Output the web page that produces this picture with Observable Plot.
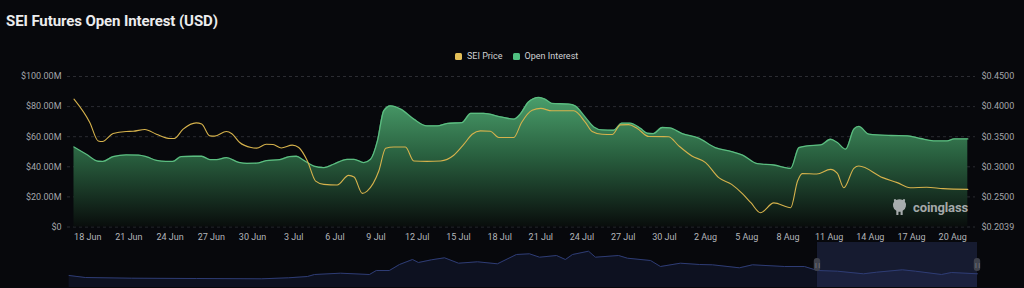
<!DOCTYPE html>
<html>
<head>
<meta charset="utf-8">
<script src="https://cdn.jsdelivr.net/npm/d3@7"></script>
<script src="https://cdn.jsdelivr.net/npm/@observablehq/plot@0.6"></script>
<style>
  html, body { margin: 0; padding: 0; }
  body { width: 1024px; height: 288px; overflow: hidden; position: relative; background: #07080c; font-family: Roboto, "Noto Sans", sans-serif; }
  #title { position: absolute; left: 6px; top: 12px; font-size: 15px; font-weight: 700; color: #ececee; letter-spacing: -0.1px; white-space: nowrap; }
  #legend { position: absolute; left: 455px; top: 51px; display: flex; align-items: center; font-size: 9px; color: #cfd0d3; white-space: nowrap; }
  #legend .sw { width: 7px; height: 7px; border-radius: 1.5px; margin-right: 5px; }
  #legend .item { display: flex; align-items: center; margin-right: 10px; }
  #main { position: absolute; left: 0; top: 60px; }
  #nav { position: absolute; left: 0; top: 242px; }
  #wm { position: absolute; left: 892px; top: 198px; display: flex; align-items: center; color: rgba(205,206,210,0.8); font-weight: 700; font-size: 13px; letter-spacing: -0.1px; }
  svg { overflow: visible; }
</style>
</head>
<body>
<div id="title">SEI Futures Open Interest (USD)</div>
<div id="legend"></div>
<div id="main"></div>
<div id="nav"></div>
<div id="wm"><svg width="15" height="18" viewBox="0 0 14 17" style="margin-right:6px"><path d="M2 3 Q1 1 3 1 L4 2 Q7 0.5 10 2 L11 1 Q13 1 12 3 Q13.5 5 13 8 Q12.5 11 10 12 L10 16 L8 16 L8 13 L6 13 L6 16 L4 16 L4 12 Q1.5 11 1 8 Q0.5 5 2 3 Z" fill="rgba(205,206,210,0.8)"/></svg><span>coinglass</span></div>
<script>
// ---------- data ----------
const startDate = "2024-06-17";            // first day shown in the main chart
// Open interest (USD millions), sampled at day offsets from startDate
const oiDays = [0,0.9,1.76,2.1,2.85,3.8,4.7,5.3,6.0,6.7,7.2,7.8,8.7,9.3,9.9,10.4,11.1,12.0,12.6,13.3,14.0,15.0,15.7,16.2,16.74,17.47,18.2,18.9,19.9,20.4,21.1,21.6,22.1,22.56,23.05,23.8,24.75,25.7,26.45,27.2,28.27,28.9,29.85,31.06,32.03,32.5,33.1,33.85,34.3,34.8,36.04,36.5,37.25,37.86,38.47,39.3,39.9,40.5,41.26,41.75,42.2,42.84,43.4,44.3,45.5,46.7,47.9,48.7,49.76,50.97,52.2,52.8,53.4,54.37,55.1,55.6,56.2,56.8,57.16,57.9,59.5,60.7,61.65,62.6,63.6,64.1,65.1];
const oiValues = [53.2,48.3,43.7,43.6,46.8,47.9,47.8,46.6,44.3,43.6,43.6,46.8,47.0,47.0,44.8,44.8,46.1,43.0,42.3,42.4,44.1,44.8,46.8,47.0,44.3,40.5,39.5,41.7,45.0,45.0,42.8,45.0,57.2,77.2,80.5,78.3,71.7,67.2,67.2,68.8,69.4,75.5,75.5,73.2,71.7,75.0,83.0,86.1,85.0,82.1,81.7,80.5,72.8,66.5,64.5,64.3,69.0,69.0,65.5,62.3,62.1,66.1,65.8,62.1,59.0,52.8,50.1,47.8,42.1,41.2,39.0,52.8,53.9,54.5,58.3,56.1,51.7,65.0,66.8,61.7,60.8,60.6,58.8,57.2,57.2,58.5,58.5];
// SEI price (USD), sampled at day offsets from startDate
const priceDays = [0,1.15,1.76,2.07,2.85,3.8,4.3,5.16,6.0,7.0,7.3,7.95,8.9,9.3,9.9,10.25,11.1,11.5,12.07,12.9,13.3,14.0,14.5,15.1,15.9,16.37,17.0,17.6,18.2,19.17,20.0,20.4,21.0,21.35,22.2,22.7,23.3,24.14,24.75,25.7,26.7,27.66,28.4,29.0,29.6,30.33,30.94,32.03,32.6,33.37,34.0,34.8,36.4,37.25,37.74,38.47,39.2,39.8,40.4,41.0,41.87,43.3,44.05,45.0,46.0,46.96,47.9,48.7,49.3,50.0,50.97,52.2,52.7,53.04,54.1,55.1,55.6,56.07,56.8,57.16,58.9,59.96,60.9,62.1,63.3,65.1];
const priceValues = [0.4125,0.3737,0.343,0.342,0.3553,0.3587,0.359,0.362,0.3542,0.347,0.347,0.3625,0.373,0.371,0.3513,0.351,0.3587,0.355,0.3403,0.332,0.331,0.3375,0.337,0.3313,0.336,0.332,0.3097,0.2763,0.2708,0.2697,0.2858,0.283,0.2558,0.2597,0.293,0.3308,0.333,0.333,0.3097,0.309,0.3097,0.3192,0.3375,0.354,0.3597,0.359,0.3487,0.3487,0.3737,0.394,0.397,0.393,0.393,0.3737,0.3587,0.354,0.3537,0.3697,0.370,0.3642,0.3503,0.350,0.3347,0.318,0.307,0.282,0.2708,0.255,0.2403,0.2237,0.240,0.232,0.2763,0.2887,0.288,0.2958,0.289,0.2653,0.2975,0.3013,0.282,0.2737,0.2653,0.266,0.2637,0.2625];
// axes
const xDomainDays = [-0.473, 65.66];
const xTicks = ["2024-06-18","2024-06-21","2024-06-24","2024-06-27","2024-06-30","2024-07-03","2024-07-06","2024-07-09","2024-07-12","2024-07-15","2024-07-18","2024-07-21","2024-07-24","2024-07-27","2024-07-30","2024-08-02","2024-08-05","2024-08-08","2024-08-11","2024-08-14","2024-08-17","2024-08-20"];
const leftTicks = [0, 20, 40, 60, 80, 100];
const leftTickLabels = ["$0","$20.00M","$40.00M","$60.00M","$80.00M","$100.00M"];
const priceDomain = [0.20, 0.45];
const priceTickLabels = ["$0.2039","$0.2500","$0.3000","$0.3500","$0.4000","$0.4500"];
// navigator (overview) : day offsets from startDate and relative height
const navDays = [-304,-297.4,-278.7,-252.3,-225.9,-214.9,-207.2,-204.3,-193.8,-182,-179.2,-173.9,-169.8,-164.5,-162.1,-156.8,-151.5,-145.8,-138.1,-130,-122.3,-117,-112.9,-106,-102.4,-99.5,-93,-90.2,-80.8,-77.2,-67.8,-63.8,-55.7,-47.9,-42.7,-31.7,-26.4,-13.4,-5.3,0,8.1,18.7,24,34.5,39.8,50.4,54.4,65];
const navHeights = [12,10,9.3,9,8.7,9.7,11,13,14.3,13,17,17,23,28,25,27.7,29.7,24.3,25.7,23.7,33,33.7,30.3,32,28,33,36.3,30.3,32,29.3,27,21,24.3,23,22.7,19.7,22.7,21,21,17,16.3,13.7,15.3,17.7,16.3,13,15,13.7];
const navSelection = [0, 65];
const seriesNames = ["SEI Price", "Open Interest"];
const seriesColors = ["#e3bf58", "#4fbf80"];

// ---------- build ----------
const DAY = 864e5;
const t0 = new Date(startDate + "T00:00:00Z").getTime();
const toDate = d => new Date(t0 + d * DAY);
const toLeft = p => (p - priceDomain[0]) / (priceDomain[1] - priceDomain[0]) * leftTicks[leftTicks.length - 1];

const oiData = oiDays.map((d, i) => ({t: toDate(d), v: oiValues[i]}));
const priceData = priceDays.map((d, i) => ({t: toDate(d), v: toLeft(priceValues[i])}));

// legend
const legend = document.getElementById("legend");
seriesNames.forEach((n, i) => {
  const it = document.createElement("div"); it.className = "item";
  const sw = document.createElement("div"); sw.className = "sw"; sw.style.background = seriesColors[i];
  const tx = document.createElement("span"); tx.textContent = n;
  it.appendChild(sw); it.appendChild(tx); legend.appendChild(it);
});

const main = Plot.plot({
  width: 1024, height: 190,
  marginTop: 16, marginBottom: 23.5, marginLeft: 67, marginRight: 49,
  style: {background: "transparent", color: "#a3a5aa", fontFamily: "Roboto, sans-serif", fontSize: "9px", overflow: "visible"},
  x: {type: "utc", domain: xDomainDays.map(toDate), label: null},
  y: {domain: [leftTicks[0], leftTicks[leftTicks.length - 1]], label: null},
  marks: [
    Plot.gridY(leftTicks, {stroke: "#2b2c32", strokeOpacity: 1, strokeDasharray: "3,3"}),
    Plot.areaY(oiData, {x: "t", y: "v", fill: "url(#oiGrad)", curve: "monotone-x"}),
    Plot.lineY(oiData, {x: "t", y: "v", stroke: "#5bbd80", strokeWidth: 1.3, curve: "monotone-x"}),
    Plot.lineY(priceData, {x: "t", y: "v", stroke: "#d6b24c", strokeWidth: 1.1, curve: "monotone-x"}),
    Plot.axisX({ticks: xTicks.map(s => new Date(s + "T00:00:00Z")), tickFormat: d3.utcFormat("%-d %b"), tickSize: 0, tickPadding: 7, label: null, fill: "#b3b5ba"}),
    Plot.axisY({anchor: "left", ticks: leftTicks, tickFormat: d => leftTickLabels[leftTicks.indexOf(d)], tickSize: 0, tickPadding: 6, label: null}),
    Plot.axisY({anchor: "right", ticks: leftTicks, tickFormat: d => priceTickLabels[leftTicks.indexOf(d)], tickSize: 0, tickPadding: 6, label: null})
  ]
});
// gradient definition for the open-interest area
const NS = "http://www.w3.org/2000/svg";
const defs = document.createElementNS(NS, "defs");
const grad = document.createElementNS(NS, "linearGradient");
grad.setAttribute("id", "oiGrad");
grad.setAttribute("x1", "0"); grad.setAttribute("y1", "0"); grad.setAttribute("x2", "0"); grad.setAttribute("y2", "1");
[["0", "#4a9e6b"], ["0.45", "#29603f"], ["1", "#090d0c"]].forEach(([o, c]) => {
  const s = document.createElementNS(NS, "stop"); s.setAttribute("offset", o); s.setAttribute("stop-color", c); grad.appendChild(s);
});
defs.appendChild(grad);
main.insertBefore(defs, main.firstChild);
document.getElementById("main").appendChild(main);

// navigator
const navData = navDays.map((d, i) => ({d, h: navHeights[i]}));
const sel = [{a: navSelection[0], b: navSelection[1]}];
const handles = navSelection.map(s => ({a: s - 1.3, b: s + 1.3, c: s}));
const nav = Plot.plot({
  width: 1024, height: 46,
  marginTop: 0, marginBottom: 1, marginLeft: 68.6, marginRight: 47,
  style: {background: "transparent", overflow: "visible"},
  x: {domain: [navDays[0], navDays[navDays.length - 1]], axis: null},
  y: {domain: [0, 45], axis: null},
  marks: [
    Plot.areaY(navData, {x: "d", y: "h", fill: "#0d1120"}),
    Plot.rect(sel, {x1: "a", x2: "b", y1: 0, y2: 45, fill: "#3b4a85", fillOpacity: 0.3}),
    Plot.lineY(navData, {x: "d", y: "h", stroke: "#2e3c74", strokeWidth: 1}),
    Plot.rect(handles, {x1: "a", x2: "b", y1: 16, y2: 29, fill: "#3f424c", rx: 3}),
    Plot.text(handles, {x: "c", y: 22.5, text: () => "||", fill: "#9a9ca3", fontSize: 6})
  ]
});
document.getElementById("nav").appendChild(nav);
</script>
</body>
</html>
